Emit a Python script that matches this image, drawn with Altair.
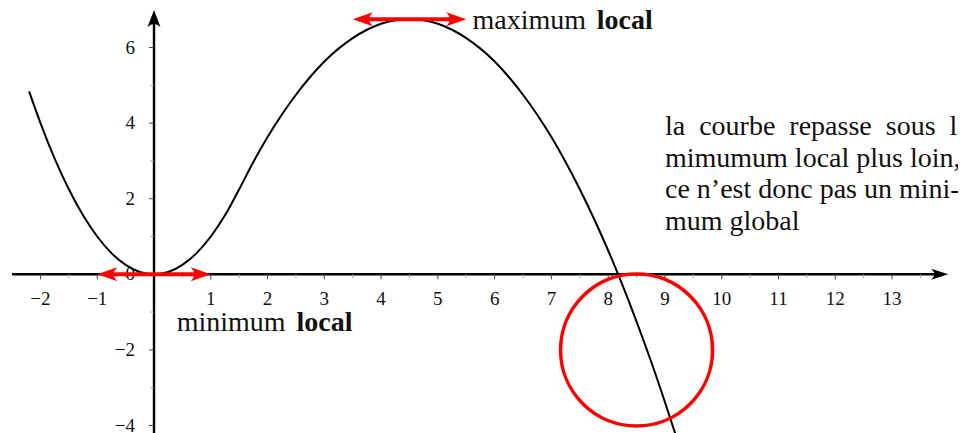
import altair as alt
import pandas as pd

# ---- data ----
curve_x = [-2.2, -2.0, -1.75, -1.5, -1.25, -1.0, -0.75, -0.5, -0.25, 0.0, 0.25, 0.5, 0.75, 1.0,
           1.25, 1.5, 1.75, 2.0, 2.25, 2.5, 2.75, 3.0, 3.25, 3.5, 3.75, 4.0, 4.25, 4.5, 4.75,
           5.0, 5.25, 5.5, 5.75, 6.0, 6.25, 6.5, 6.75, 7.0, 7.25, 7.5, 7.75, 8.0, 8.25, 8.5,
           8.75, 9.0, 9.25]
curve_y = [4.84, 4.0, 3.06, 2.25, 1.56, 1.0, 0.56, 0.25, 0.06, 0.0, 0.06, 0.25, 0.56, 1.0,
           1.56, 2.25, 2.97, 3.63, 4.22, 4.75, 5.22, 5.63, 5.97, 6.25, 6.47, 6.63, 6.72, 6.75, 6.72,
           6.63, 6.47, 6.25, 5.97, 5.63, 5.22, 4.75, 4.22, 3.63, 2.97, 2.25, 1.47, 0.63, -0.28, -1.25,
           -2.28, -3.38, -4.53]

x_major_ticks = [-2, -1, 1, 2, 3, 4, 5, 6, 7, 8, 9, 10, 11, 12, 13]
x_tick_labels = ["\u22122", "\u22121", "1", "2", "3", "4", "5", "6", "7", "8", "9", "10", "11", "12", "13"]
x_minor_ticks = [-1.5, -0.5, 0.5, 1.5, 2.5, 3.5, 4.5, 5.5, 6.5, 7.5, 8.5, 9.5, 10.5, 11.5, 12.5, 13.5]
y_major_ticks = [-4, -2, 2, 4, 6]
y_label_values = [-4, -2, 0, 2, 4, 6]
y_tick_labels = ["\u22124", "\u22122", "0", "2", "4", "6"]
y_minor_ticks = [-3, -1, 1, 3, 5]

x_axis_range = [-2.5, 13.88, 13.99]   # start, line end, arrow tip
y_axis_range = [-4.3, 6.83, 6.99]

min_arrow = [-1.0, 1.0, 0.0]      # left tip, right tip, y
max_arrow = [3.5, 5.5, 6.75]

circle_center = [8.5, -2.0]

ann_text = ["maximum", "local", "minimum", "local"]
ann_x = [5.61, 7.8, 0.40, 2.51]
ann_y = [6.49, 6.49, -1.5, -1.5]
ann_bold = [False, True, False, True]

# first line is justified in the original: wider (en) spaces
note_lines = ["la\u2002courbe\u2002repasse\u2002sous\u2002le", "mimumum local plus loin,",
              "ce n\u2019est donc pas un mini-", "mum global"]
note_x = 9.0
note_y = [3.685, 2.847, 2.008, 1.169]

# ---- scales ----
xs = alt.Scale(domain=[-2.572, 14.162], nice=False, zero=False)
ys = alt.Scale(domain=[-4.198, 7.045], nice=False, zero=False)
SERIF = "Liberation Serif"


def X(f="x"):
    return alt.X(f"{f}:Q", scale=xs, axis=None)


def Y(f="y"):
    return alt.Y(f"{f}:Q", scale=ys, axis=None)


layers = []

# axes lines
axes_df = pd.DataFrame({
    "x": [x_axis_range[0], 0.0], "x2": [x_axis_range[1], 0.0],
    "y": [0.0, y_axis_range[0]], "y2": [0.0, y_axis_range[1]],
})
layers.append(alt.Chart(axes_df).mark_rule(color="black", strokeWidth=2.4).encode(
    x=X(), x2="x2:Q", y=Y(), y2="y2:Q"))

# ticks
xmaj = pd.DataFrame({"x": x_major_ticks, "y": [0.0] * len(x_major_ticks)})
xmin = pd.DataFrame({"x": x_minor_ticks, "y": [0.0] * len(x_minor_ticks)})
ymaj = pd.DataFrame({"y": y_major_ticks, "x": [0.0] * len(y_major_ticks)})
ymin = pd.DataFrame({"y": y_minor_ticks, "x": [0.0] * len(y_minor_ticks)})
layers.append(alt.Chart(xmaj).mark_rule(color="#444", strokeWidth=1, y2Offset=5).encode(
    x=X(), y=Y(), y2="y:Q"))
layers.append(alt.Chart(xmin).mark_rule(color="#999", strokeWidth=1, y2Offset=3.5).encode(
    x=X(), y=Y(), y2="y:Q"))
layers.append(alt.Chart(ymaj).mark_rule(color="#444", strokeWidth=1, x2Offset=-5).encode(
    x=X(), x2="x:Q", y=Y()))
layers.append(alt.Chart(ymin).mark_rule(color="#999", strokeWidth=1, x2Offset=-3.5).encode(
    x=X(), x2="x:Q", y=Y()))

# tick labels
xlab = pd.DataFrame({"x": x_major_ticks, "y": [0.0] * len(x_major_ticks), "t": x_tick_labels})
ylab = pd.DataFrame({"y": y_label_values, "x": [0.0] * len(y_label_values), "t": y_tick_labels})
layers.append(alt.Chart(xlab).mark_text(font=SERIF, fontSize=19, color="#111", dy=25,
                                        baseline="middle", align="center").encode(
    x=X(), y=Y(), text="t:N"))
layers.append(alt.Chart(ylab).mark_text(font=SERIF, fontSize=19, color="#111", dx=-19,
                                        baseline="middle", align="right").encode(
    x=X(), y=Y(), text="t:N"))

# arrowheads of the axes
AH_R_BLACK = "M0,0L-2,-0.65Q-1.3,0,-2,0.65Z"
AH_U_BLACK = "M0,0L-0.76,2Q0,1.3,0.76,2Z"
layers.append(alt.Chart(pd.DataFrame({"x": [x_axis_range[2]], "y": [0.0]})).mark_point(
    shape=AH_R_BLACK, size=289, filled=True, fill="black", strokeWidth=0, opacity=1).encode(
    x=X(), y=Y()))
layers.append(alt.Chart(pd.DataFrame({"x": [0.0], "y": [y_axis_range[2]]})).mark_point(
    shape=AH_U_BLACK, size=289, filled=True, fill="black", strokeWidth=0, opacity=1).encode(
    x=X(), y=Y()))

# curve
curve_df = pd.DataFrame({"x": curve_x, "y": curve_y})
layers.append(alt.Chart(curve_df).mark_line(color="black", strokeWidth=2, interpolate="monotone",
                                            clip=True).encode(x=X(), y=Y(), order="x:Q"))

# red double arrows
AH_R = "M0,0L-2,-0.7Q-1.3,0,-2,0.7Z"
AH_L = "M0,0L2,-0.7Q1.3,0,2,0.7Z"
for a in (min_arrow, max_arrow):
    seg = pd.DataFrame({"x": [a[0] + 0.1], "x2": [a[1] - 0.1], "y": [a[2]]})
    layers.append(alt.Chart(seg).mark_rule(color="#ff0000", strokeWidth=4).encode(
        x=X(), x2="x2:Q", y=Y()))
    layers.append(alt.Chart(pd.DataFrame({"x": [a[0]], "y": [a[2]]})).mark_point(
        shape=AH_L, size=400, filled=True, fill="#ff0000", strokeWidth=0, opacity=1).encode(
        x=X(), y=Y()))
    layers.append(alt.Chart(pd.DataFrame({"x": [a[1]], "y": [a[2]]})).mark_point(
        shape=AH_R, size=400, filled=True, fill="#ff0000", strokeWidth=0, opacity=1).encode(
        x=X(), y=Y()))

# red circle
layers.append(alt.Chart(pd.DataFrame({"x": [circle_center[0]], "y": [circle_center[1]]})).mark_point(
    shape="circle", size=23104, filled=False, stroke="#ff0000", strokeWidth=3.5, opacity=1).encode(
    x=X(), y=Y()))

# annotations
ann_df = pd.DataFrame({"x": ann_x, "y": ann_y, "t": ann_text, "b": ann_bold})
layers.append(alt.Chart(ann_df[~ann_df.b]).mark_text(font=SERIF, fontSize=28, color="#111",
                                                     align="left", baseline="alphabetic").encode(
    x=X(), y=Y(), text="t:N"))
layers.append(alt.Chart(ann_df[ann_df.b]).mark_text(font=SERIF, fontSize=28, color="#111",
                                                    fontWeight="bold", align="left",
                                                    baseline="alphabetic").encode(
    x=X(), y=Y(), text="t:N"))

note_df = pd.DataFrame({"x": [note_x] * len(note_lines), "y": note_y, "t": note_lines})
layers.append(alt.Chart(note_df).mark_text(font=SERIF, fontSize=28, color="#111",
                                           align="left", baseline="alphabetic").encode(
    x=X(), y=Y(), text="t:N"))

chart = alt.layer(*layers).properties(
    width=950, height=425, padding=0, autosize=alt.AutoSizeParams(type="none"),
    background="white",
).configure_view(stroke=None)

chart.save("out.html", embed_options={"renderer": "svg", "actions": False})
